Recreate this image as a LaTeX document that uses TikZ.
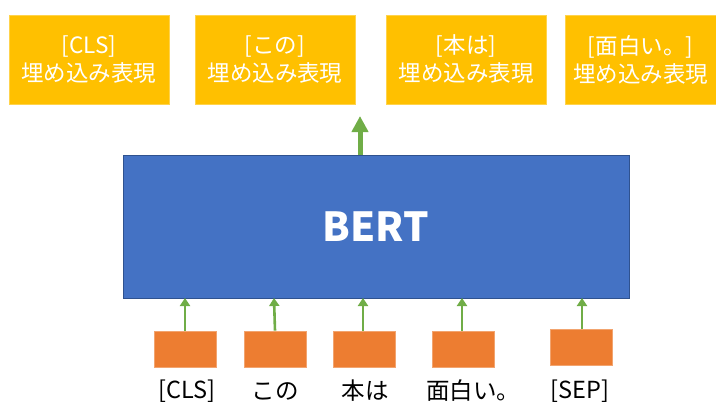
\documentclass[tikz,border=0pt]{standalone}
\usepackage{fontspec}
\setmainfont{Noto Sans CJK JP}
\usetikzlibrary{arrows.meta}
\definecolor{embY}{HTML}{FFC000}
\definecolor{tokO}{HTML}{ED7D31}
\definecolor{bertB}{HTML}{4472C4}
\definecolor{bertD}{HTML}{2F528F}
\definecolor{arrG}{HTML}{70AD47}
\begin{document}
\begin{tikzpicture}[x=1pt,y=-1pt,
  embbox/.style={fill=embY,draw=embY!70!white,line width=0.6pt,minimum width=160pt,minimum height=89pt,inner sep=0pt,text=white,align=center,font=\fontsize{22.5}{28}\selectfont},
  tokbox/.style={fill=tokO,draw=tokO!70!white,line width=0.6pt,minimum width=62pt,minimum height=36pt,inner sep=0pt},
  toklab/.style={font=\fontsize{23.5}{26}\selectfont,inner sep=0pt},
  garr/.style={draw=arrG,line width=2.6pt,-{Triangle[length=8pt,width=10pt]}},
  bigarr/.style={draw=arrG,line width=5pt,-{Triangle[length=16pt,width=16pt]}}]
\useasboundingbox (0,0) rectangle (716,408);
% top embedding boxes
\node[embbox] (e1) at (89,59.5) {[CLS]\\埋め込み表現};
\node[embbox] (e2) at (275,59.5) {[この]\\埋め込み表現};
\node[embbox] (e3) at (466,59.5) {[本は]\\埋め込み表現};
\node[embbox,minimum width=151pt] (e4) at (640.5,59.5) {[面白い。]\\埋め込み表現};
% BERT
\node[fill=bertB,draw=bertD,line width=1pt,minimum width=506pt,minimum height=143pt,inner sep=0pt,text=white,font=\fontsize{40}{44}\selectfont\bfseries] (bert) at (376,226.5) {BERT};
% token boxes
\node[tokbox] (t1) at (185,349) {};
\node[tokbox] (t2) at (275,349) {};
\node[tokbox] (t3) at (364.5,349) {};
\node[tokbox] (t4) at (463.5,349) {};
\node[tokbox] (t5) at (581.5,347.5) {};
% labels
\node[toklab] (l1) at (187,391) {[CLS]};
\node[toklab] (l2) at (275,391) {この};
\node[toklab] (l3) at (365,391) {本は};
\node[toklab] (l4) at (473,391) {面白い。};
\node[toklab] (l5) at (580,391) {[SEP]};
% arrows
\coordinate (top) at (360,116);
\draw[bigarr] (360,155) -- (top);
\draw[garr] (t1.north -| 185,0) -- (185,298);
\draw[garr] (t2.north) -- (274,298);
\draw[garr] (t3.north -| 363,0) -- (363,298);
\draw[garr] (t4.north -| 462,0) -- (462,298);
\draw[garr] (t5.north -| 582,0) -- (582,298);
\end{tikzpicture}
\end{document}
